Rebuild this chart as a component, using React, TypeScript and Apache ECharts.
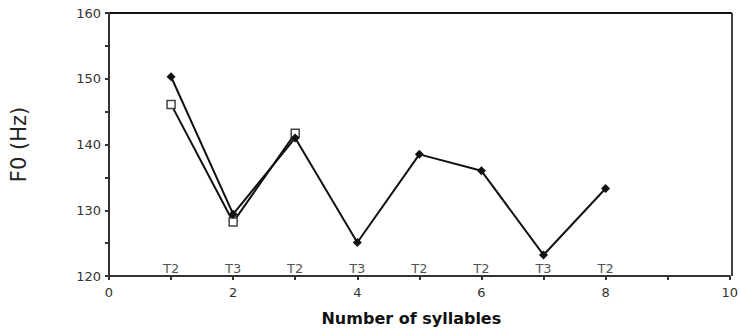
import React, { useEffect, useRef } from "react";
import * as echarts from "echarts";

// Mean F0 per syllable position
const syllables = [1, 2, 3, 4, 5, 6, 7, 8];
const toneLabels = ["T2", "T3", "T2", "T3", "T2", "T2", "T3", "T2"];
const f0Long = [150.3, 129.4, 141.0, 125.1, 138.5, 136.0, 123.2, 133.3];
const f0ShortPositions = [1, 2, 3];
const f0Short = [146.1, 128.2, 141.7];

const axisColor = "#333";
const font = "DejaVu Sans";

export default function App() {
  const ref = useRef<HTMLDivElement>(null);

  useEffect(() => {
    if (!ref.current) return;
    const chart = echarts.init(ref.current, undefined, { renderer: "svg" });
    chart.setOption({
      animation: false,
      backgroundColor: "#fff",
      grid: { left: 107, top: 13, right: 9, bottom: 58, show: false },
      xAxis: {
        type: "value",
        min: 0,
        max: 10,
        interval: 1,
        name: "Number of syllables",
        nameLocation: "middle",
        nameGap: 34,
        nameTextStyle: {
          fontFamily: font,
          fontSize: 16,
          fontWeight: 600,
          color: "#111",
          padding: [0, 16, 0, 0],
        },
        axisLine: { lineStyle: { color: axisColor, width: 2 } },
        axisTick: { inside: false, length: 4, lineStyle: { color: axisColor, width: 2 } },
        axisLabel: {
          fontFamily: font,
          fontSize: 13,
          color: axisColor,
          margin: 10,
          formatter: (v: number) => (v % 2 === 0 ? String(v) : ""),
        },
        splitLine: { show: false },
      },
      yAxis: {
        type: "value",
        min: 120,
        max: 160,
        interval: 5,
        name: "F0 (Hz)",
        nameLocation: "middle",
        nameGap: 80,
        nameTextStyle: { fontFamily: font, fontSize: 21, color: "#222" },
        axisLine: { lineStyle: { color: axisColor, width: 2 } },
        axisTick: { length: 4, lineStyle: { color: axisColor, width: 2 } },
        axisLabel: {
          fontFamily: font,
          fontSize: 13,
          color: axisColor,
          margin: 8,
          formatter: (v: number) => (v % 10 === 0 ? String(v) : ""),
        },
        splitLine: { show: false },
      },
      series: [
        {
          type: "line",
          data: f0ShortPositions.map((x, i) => [x, f0Short[i]]),
          symbol: "rect",
          symbolSize: 8,
          showSymbol: true,
          lineStyle: { color: "#111", width: 2 },
          itemStyle: { color: "#fff", borderColor: "#444", borderWidth: 1.5 },
          z: 2,
        },
        {
          type: "line",
          data: syllables.map((x, i) => [x, f0Long[i]]),
          symbol: "diamond",
          symbolSize: 9,
          lineStyle: { color: "#111", width: 2 },
          itemStyle: { color: "#111" },
          z: 3,
        },
        {
          type: "scatter",
          data: syllables.map((x) => [x, 120]),
          symbolSize: 0,
          silent: true,
          label: {
            show: true,
            position: "top",
            distance: 1,
            fontFamily: font,
            fontSize: 13,
            color: "#222",
            formatter: (p: any) => toneLabels[p.dataIndex],
          },
          z: 4,
        },
      ],
      graphic: [
        {
          type: "line",
          shape: { x1: 107, y1: 13, x2: 732, y2: 13 },
          style: { stroke: "#111", lineWidth: 2 },
        },
        {
          type: "line",
          shape: { x1: 732, y1: 13, x2: 732, y2: 276 },
          style: { stroke: "#444", lineWidth: 2 },
        },
      ],
    });
    return () => chart.dispose();
  }, []);

  return (
    <div
      ref={ref}
      style={{ position: "fixed", left: 0, top: 0, width: 741, height: 334 }}
    />
  );
}
